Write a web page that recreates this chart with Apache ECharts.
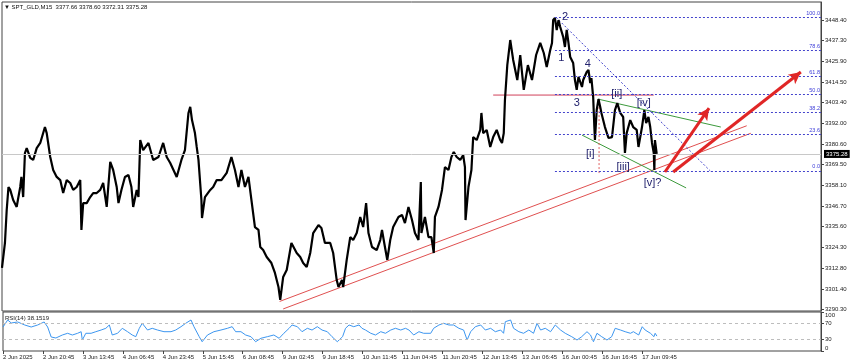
<!DOCTYPE html>
<html><head><meta charset="utf-8">
<script src="https://cdn.jsdelivr.net/npm/echarts@6/dist/echarts.min.js"></script>
<style>html,body{margin:0;padding:0;background:#fff}#c{width:850px;height:364px}</style>
</head><body><div id="c"></div>
<script>
// ---- data ----
const timeLabels = ['2 Jun 2025','2 Jun 20:45','3 Jun 13:45','4 Jun 06:45','4 Jun 23:45','5 Jun 15:45','6 Jun 08:45','9 Jun 02:45','9 Jun 18:45','10 Jun 11:45','11 Jun 04:45','11 Jun 20:45','12 Jun 13:45','13 Jun 06:45','16 Jun 00:45','16 Jun 16:45','17 Jun 09:45'];
const barsPerLabel = 68;
const priceTicks = [3448.40,3437.30,3425.90,3414.50,3403.40,3392.00,3380.60,3369.50,3358.10,3346.70,3335.60,3324.30,3312.80,3301.40,3290.30];
const rsiTicks = [0,30,70,100];
const rsiLevels = [70,30];
const lastPrice = 3375.28;
const titleText = '\u25BC SPT_GLD,M15  3377.66 3378.60 3372.31 3375.28';
const rsiTitle = 'RSI(14) 38.1519';

const priceBars = [0,5,8,11,14,19,25,27,31,33,36,39,42,48,53,59,65,73,76,82,87,93,99,104,110,116,121,127,133,135,138,144,150,155,161,167,172,178,184,189,195,198,203,209,215,220,223,229,232,235,240,249,257,266,274,280,286,297,305,311,317,320,323,328,331,334,339,340,345,354,359,365,373,382,390,396,402,407,413,419,424,430,436,439,444,450,458,464,470,473,478,484,492,501,507,512,518,524,529,538,543,549,558,563,569,572,578,580,586,592,597,603,609,614,619,623,629,637,643,646,651,655,660,665,674,680,685,691,697,702,708,712,713,719,725,730,734,736,742,748,753,759,764,768,773,779,784,787,788,793,798,801,807,813,815,818,824,830,835,841,847,850,853,855,859,864,869,876,881,887,894,901,908,915,921,926,932,935,937,940,943,946,949,954,957,960,963,966,971,974,977,980,986,988,994,997,1000,1002,1005,1007,1008,1011,1014,1017,1019,1025,1031,1037,1042,1046,1051,1056,1059,1062,1068,1073,1079,1082,1085,1088,1092,1095,1099,1102,1105,1108,1109,1110,1113];
const priceValues = [3312.9,3326.6,3344.6,3357.2,3355.6,3350.1,3346.3,3350.1,3357.2,3362.7,3351.7,3375.8,3378.5,3373.1,3372.0,3378.5,3381.3,3390.0,3386.7,3373.6,3366.5,3362.7,3361.0,3353.9,3361.0,3359.4,3355.6,3357.2,3361.0,3333.7,3348.4,3348.4,3351.7,3353.9,3353.9,3355.6,3359.4,3346.3,3370.9,3366.5,3357.2,3348.4,3355.6,3362.7,3363.8,3357.2,3346.3,3355.6,3351.7,3382.9,3377.4,3381.3,3372.0,3373.6,3381.3,3373.6,3370.3,3362.7,3372.0,3377.4,3397.7,3401.0,3393.8,3386.7,3379.1,3372.0,3350.1,3340.2,3351.7,3355.6,3357.2,3361.0,3361.0,3364.9,3373.6,3366.5,3357.2,3366.5,3357.2,3362.7,3350.1,3335.3,3333.7,3324.4,3322.7,3318.9,3315.6,3310.2,3302.5,3295.4,3308.0,3311.8,3326.6,3321.1,3318.9,3315.6,3313.4,3321.1,3332.0,3336.4,3334.8,3326.6,3326.6,3321.1,3306.3,3302.5,3306.3,3302.5,3317.3,3329.8,3328.2,3332.0,3340.8,3335.3,3348.4,3332.0,3324.4,3322.7,3328.2,3333.7,3324.4,3317.3,3328.2,3335.3,3340.8,3341.9,3337.5,3346.3,3339.1,3332.0,3328.2,3359.9,3332.0,3340.8,3329.8,3329.8,3321.1,3340.8,3346.3,3355.6,3368.1,3366.5,3373.6,3376.3,3373.6,3372.0,3374.7,3368.1,3339.1,3357.2,3366.5,3384.5,3382.9,3388.4,3397.7,3386.7,3388.4,3379.1,3384.5,3388.4,3382.9,3381.3,3386.7,3404.8,3423.9,3437.6,3426.7,3415.7,3429.4,3410.3,3423.9,3415.7,3429.4,3436.0,3430.5,3422.8,3432.1,3436.0,3448.5,3449.6,3443.1,3448.5,3444.7,3439.3,3433.8,3443.1,3436.0,3428.3,3425.0,3415.7,3410.3,3417.4,3411.9,3415.7,3420.1,3421.2,3414.1,3416.8,3406.4,3390.0,3382.9,3399.3,3405.3,3401.0,3397.7,3390.0,3384.0,3384.5,3399.3,3403.1,3397.7,3395.5,3375.8,3386.7,3393.8,3390.0,3388.4,3379.1,3384.5,3390.0,3399.3,3392.2,3395.5,3390.0,3381.3,3375.8,3366.5,3382.9,3375.3];

const rsiBars = [0,8,14,25,37,48,59,70,76,82,90,93,101,110,118,127,133,135,141,150,158,167,175,181,186,195,203,212,220,226,232,237,246,254,263,274,286,294,303,311,320,325,334,339,348,359,371,382,390,396,405,413,422,430,439,450,461,470,478,487,492,501,509,518,526,535,543,552,560,569,578,583,589,597,606,611,617,626,634,643,651,660,668,677,685,691,699,708,716,719,728,733,742,750,759,767,776,784,790,796,804,813,821,830,838,847,852,855,864,869,878,886,895,903,909,915,923,932,940,949,957,968,977,985,994,1000,1005,1011,1019,1028,1036,1042,1051,1059,1068,1073,1082,1088,1093,1102,1108,1110,1113];
const rsiValues = [61.5,79.5,71.8,74.4,66.7,61.5,66.7,74.4,61.5,35.9,33.3,32.6,41.0,45.4,41.0,45.4,49.5,28.2,45.4,45.4,49.5,53.8,58.2,66.7,41.0,45.4,58.2,49.5,41.0,36.7,58.2,71.0,53.8,58.2,53.8,49.5,49.5,53.8,62.3,71.0,79.5,62.3,36.7,23.8,41.0,49.5,53.8,58.2,62.3,49.5,49.5,41.0,36.7,23.8,32.6,36.7,41.0,32.6,45.4,58.2,66.7,62.3,49.5,58.2,53.8,62.3,53.8,49.5,36.7,23.8,36.7,58.2,66.7,62.3,66.7,58.2,53.8,45.4,41.0,49.5,45.4,53.8,58.2,53.8,58.2,53.8,41.0,49.5,45.4,49.5,45.4,58.2,66.7,71.0,66.7,66.7,58.2,53.8,28.2,49.5,62.3,66.7,53.8,58.2,49.5,53.8,45.4,75.1,79.5,58.2,49.5,45.4,53.8,45.4,71.0,53.8,58.2,49.5,66.7,53.8,45.4,36.7,28.2,36.7,49.5,41.0,23.8,45.4,36.7,28.2,36.7,58.2,53.8,49.5,45.4,49.5,41.0,62.3,53.8,45.4,36.7,45.4,38.2];

// Fibonacci retracement
const fibLevels = [0, 23.6, 38.2, 50.0, 61.8, 78.6, 100.0];
const fibLow = 3366.0, fibHigh = 3450.0;
const fibStartBar = 940;
const fibDiagonal = [[942, 3450.0], [1204, 3366.0]];

// drawn objects (anchors in bar / price units)
const redChannelUpper = [[472, 3294.6], [1266, 3390.7]];
const redChannelLower = [[478, 3290.5], [1273, 3386.6]];
const greenUpper = [[1013, 3405.3], [1222, 3390.0]];
const greenLower = [[986, 3385.6], [1163, 3356.7]];
const redHorizontal = [[835, 3407.5], [1108, 3407.5]];
const redVertical = [[1015, 3405.3], [1015, 3364.3]];
const arrow1 = [[1127, 3365.4], [1202, 3400.4]];
const arrow2 = [[1141, 3365.4], [1358, 3420.1]];

const waveTexts = ['2','1','4','3','[ii]','[iv]','[i]','[iii]','[v]?'];
const waveBars = [957, 951, 996, 977, 1045, 1091, 1000, 1056, 1106];
const waveValues = [3450.0, 3427.8, 3424.5, 3403.2, 3407.9, 3403.3, 3375.3, 3368.3, 3359.2];

// ---- chart ----
const X_MAX = 1392.3, Y_MIN = 3289.37, Y_MAX = 3458.4;
const FONT = 'Liberation Sans';
const chart = echarts.init(document.getElementById('c'), null, {renderer: 'canvas'});
const priceData = priceBars.map((b, i) => [b, priceValues[i]]);
const rsiData = rsiBars.map((b, i) => [b, rsiValues[i]]);
const labelBars = timeLabels.map((_, i) => i * barsPerLabel);

const fibColor = '#4343cc';
const fibMarks = fibLevels.map(l => {
  const v = fibLow + (fibHigh - fibLow) * l / 100;
  return [{coord: [fibStartBar, v], symbol: 'none',
           lineStyle: {color: fibColor, type: [2, 2], width: 1},
           label: {show: true, position: 'insideEndTop', formatter: l.toFixed(1), fontSize: 5.5, color: '#3c3cd8', fontFamily: FONT, distance: 1}},
          {coord: [X_MAX, v], symbol: 'none'}];
});
const arrowMark = a => [{coord: a[0], symbol: 'none', lineStyle: {color: '#e02626', width: 3, type: 'solid'}, label: {show: false}},
                        {coord: a[1], symbol: 'arrow', symbolSize: [9, 12]}];

function seg(pts, color, width, type) {
  return {type: 'line', xAxisIndex: 0, yAxisIndex: 0, data: pts, showSymbol: false, silent: true,
          lineStyle: {color: color, width: width, type: type || 'solid'}, z: 3};
}

const option = {
  animation: false,
  backgroundColor: '#fff',
  grid: [
    {left: 2, right: 29, top: 2, bottom: 53, show: true, borderColor: '#444', borderWidth: 1},
    {left: 2, right: 29, top: 312, bottom: 13, show: true, borderColor: '#444', borderWidth: 1}
  ],
  xAxis: [
    {type: 'value', gridIndex: 0, min: 0, max: X_MAX, show: false},
    {type: 'value', gridIndex: 1, min: 0, max: X_MAX,
     axisLine: {show: false, onZero: false},
     axisTick: {show: true, customValues: labelBars, length: 3, lineStyle: {color: '#444'}},
     axisLabel: {customValues: labelBars, formatter: v => timeLabels[Math.round(v / barsPerLabel)],
                 align: 'left', fontSize: 6, color: '#222', fontFamily: FONT, margin: 3},
     splitLine: {show: false}}
  ],
  yAxis: [
    {type: 'value', gridIndex: 0, position: 'right', min: Y_MIN, max: Y_MAX,
     axisLine: {show: true, onZero: false, lineStyle: {color: '#444'}},
     axisTick: {show: true, customValues: priceTicks, length: 3, lineStyle: {color: '#444'}},
     axisLabel: {customValues: priceTicks, formatter: v => v.toFixed(2), fontSize: 6, color: '#222', fontFamily: FONT, margin: 4},
     splitLine: {show: false}},
    {type: 'value', gridIndex: 1, position: 'right', min: 0, max: 100,
     axisLine: {show: true, onZero: false, lineStyle: {color: '#444'}},
     axisTick: {show: true, customValues: rsiTicks, length: 3, lineStyle: {color: '#444'}},
     axisLabel: {customValues: rsiTicks, fontSize: 6, color: '#222', fontFamily: FONT, margin: 4,
                 verticalAlignMinLabel: 'bottom', verticalAlignMaxLabel: 'top'},
     splitLine: {show: false}}
  ],
  series: [
    {type: 'line', name: 'price', xAxisIndex: 0, yAxisIndex: 0, data: priceData, showSymbol: false, silent: true,
     lineStyle: {color: '#000', width: 2.2}, z: 4,
     markLine: {silent: true, symbol: ['none', 'none'], animation: false,
       data: [
         {yAxis: lastPrice, lineStyle: {color: '#c8c8c8', width: 1, type: 'solid'},
          label: {show: true, position: 'end', formatter: lastPrice.toFixed(2), backgroundColor: '#000', color: '#fff',
                  fontSize: 6, fontFamily: FONT, padding: [1, 2], distance: 3}},
         ...fibMarks,
         arrowMark(arrow1), arrowMark(arrow2)
       ]}},
    seg(redChannelUpper, '#e05050', 1),
    seg(redChannelLower, '#e05050', 1),
    seg(greenUpper, '#3c9a3c', 1),
    seg(greenLower, '#3c9a3c', 1),
    seg(redHorizontal, '#d0405a', 1),
    seg(redVertical, '#e06060', 1, [2, 2]),
    seg(fibDiagonal, fibColor, 1, [2, 2]),
    {type: 'scatter', xAxisIndex: 0, yAxisIndex: 0, silent: true, symbolSize: 0, z: 6,
     itemStyle: {color: '#23236e', opacity: 1},
     data: waveTexts.map((t, i) => ({value: [waveBars[i], waveValues[i]], name: t})),
     label: {show: true, position: 'inside', formatter: p => p.name, fontSize: 11, color: '#23236e',
             textBorderWidth: 0, textBorderColor: 'transparent', opacity: 1, fontFamily: FONT}},
    {type: 'line', name: 'rsi', xAxisIndex: 1, yAxisIndex: 1, data: rsiData, showSymbol: false, silent: true,
     lineStyle: {color: '#3c96f0', width: 1},
     markLine: {silent: true, symbol: ['none', 'none'], label: {show: false},
       lineStyle: {color: '#bdbdbd', type: [3, 3], width: 1},
       data: rsiLevels.map(l => ({yAxis: l}))}}
  ],
  graphic: [
    {type: 'text', left: 4, top: 4, style: {text: titleText, font: '6px ' + FONT, fill: '#111'}},
    {type: 'text', left: 5, top: 315, style: {text: rsiTitle, font: '6px ' + FONT, fill: '#222'}}
  ]
};
chart.setOption(option);
</script></body></html>
